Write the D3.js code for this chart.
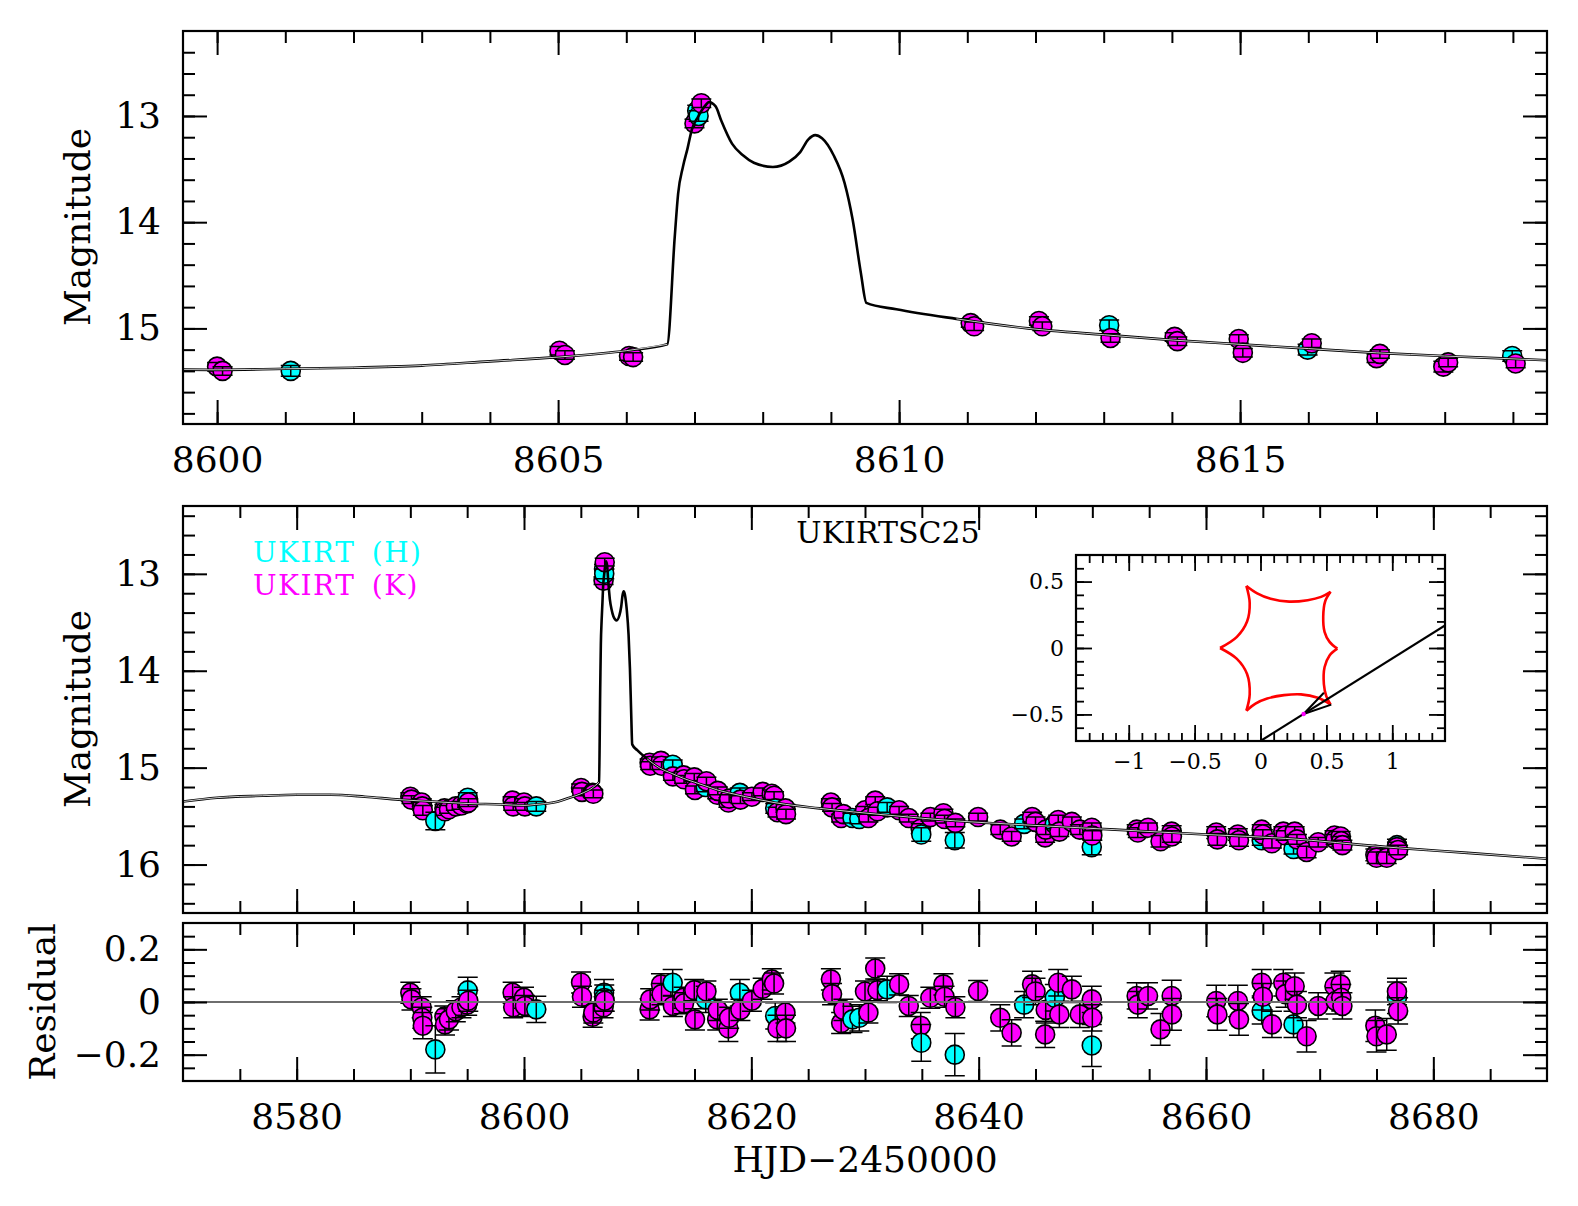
<!DOCTYPE html>
<html lang="en">
<head>
<meta charset="utf-8">
<title>UKIRTSC25 light curve</title>
<script src="https://cdn.jsdelivr.net/npm/d3@7"></script>
<style>
  body { margin: 0; background: #fff; }
  svg text { font-family: "DejaVu Serif", serif; fill: #000; }
</style>
</head>
<body>
<svg width="1578" height="1206"></svg>
<script>
// ---- model light curve (HJD-2450000, mag) ----
const modelTime = [8570, 8573, 8577, 8580, 8583, 8586, 8589, 8592, 8595, 8598, 8600, 8601, 8602, 8603, 8604, 8605, 8606, 8606.6,
  8606.71, 8606.76, 8606.83, 8606.9, 8606.96, 8607.05, 8607.16, 8607.21, 8607.31, 8607.39, 8607.55, 8607.71, 8607.87,
  8608.15, 8608.39, 8608.55, 8608.67, 8608.77, 8608.87, 8609.04, 8609.2, 8609.32, 8609.44, 8609.52, 8609.96, 8610.84,
  8611.89, 8613.01, 8614.02, 8615, 8616, 8617, 8618, 8619.5, 8622, 8626, 8632, 8638, 8644, 8652, 8660, 8667, 8676, 8683, 8690];
const modelMag = [15.35, 15.31, 15.29, 15.28, 15.28, 15.30, 15.33, 15.35, 15.37, 15.38, 15.39, 15.38, 15.37, 15.35, 15.31, 15.27, 15.21, 15.15,
  14.14, 13.73, 13.48, 13.30, 13.13, 13.01, 12.90, 12.87, 12.91, 13.04, 13.26, 13.37, 13.44,
  13.48, 13.43, 13.34, 13.22, 13.18, 13.21, 13.37, 13.63, 13.98, 14.48, 14.76, 14.82, 14.91,
  15.00, 15.06, 15.11, 15.15, 15.19, 15.23, 15.26, 15.30, 15.36, 15.42, 15.49, 15.55, 15.59, 15.64, 15.69, 15.73, 15.82, 15.88, 15.94];

// ---- observations: [time, mag, error, residual] ----
const ukirtK = [
  [8590.00, 15.30, 0.04, 0.035], [8590.10, 15.33, 0.04, 0.010], [8591.00, 15.36, 0.04, -0.020], [8591.05, 15.40, 0.04, -0.060],
  [8591.10, 15.44, 0.05, -0.090], [8593.00, 15.42, 0.04, -0.055], [8593.05, 15.45, 0.04, -0.085], [8593.40, 15.43, 0.04, -0.066],
  [8594.00, 15.40, 0.04, -0.035], [8594.50, 15.39, 0.04, -0.020], [8595.00, 15.37, 0.04, -0.010], [8595.10, 15.36, 0.04, 0.005],
  [8599.00, 15.34, 0.04, 0.035], [8599.05, 15.40, 0.04, -0.020], [8600.00, 15.36, 0.04, 0.016], [8600.08, 15.40, 0.04, -0.015],
  [8605.02, 15.21, 0.04, 0.074], [8605.10, 15.25, 0.04, 0.020], [8606.04, 15.26, 0.04, -0.056], [8606.10, 15.27, 0.04, -0.040],
  [8607.00, 13.07, 0.04, -0.020], [8607.10, 12.88, 0.04, 0.005],
  [8611.05, 14.95, 0.04, -0.028], [8611.10, 14.98, 0.04, 0.010], [8612.05, 14.93, 0.04, 0.067], [8612.10, 14.98, 0.04, 0.030],
  [8613.10, 15.09, 0.04, -0.015], [8614.04, 15.08, 0.04, 0.016], [8614.08, 15.12, 0.04, -0.005], [8614.98, 15.10, 0.04, 0.045],
  [8615.04, 15.23, 0.04, -0.066], [8616.05, 15.14, 0.04, 0.040], [8617.00, 15.28, 0.04, -0.066], [8617.05, 15.24, 0.04, -0.030],
  [8617.98, 15.36, 0.05, -0.100], [8618.05, 15.32, 0.04, -0.060], [8619.04, 15.33, 0.04, -0.030], [8620.05, 15.30, 0.04, 0.005],
  [8621.00, 15.25, 0.04, 0.050], [8621.80, 15.27, 0.04, 0.086], [8622.00, 15.29, 0.04, 0.070], [8622.30, 15.46, 0.05, -0.100],
  [8623.00, 15.42, 0.04, -0.040], [8623.05, 15.48, 0.05, -0.100],
  [8627.00, 15.36, 0.04, 0.086], [8627.10, 15.41, 0.04, 0.030], [8627.90, 15.52, 0.04, -0.080], [8628.10, 15.48, 0.04, -0.030],
  [8630.00, 15.44, 0.04, 0.040], [8630.30, 15.52, 0.04, -0.040], [8630.90, 15.34, 0.04, 0.127], [8631.10, 15.45, 0.04, 0.045],
  [8633.00, 15.44, 0.04, 0.067], [8633.85, 15.52, 0.04, -0.015], [8634.90, 15.63, 0.05, -0.090], [8635.75, 15.51, 0.04, 0.016],
  [8636.90, 15.47, 0.04, 0.067], [8637.00, 15.53, 0.04, 0.020], [8637.95, 15.57, 0.04, -0.020], [8639.95, 15.51, 0.04, 0.042],
  [8641.90, 15.64, 0.05, -0.060], [8642.90, 15.71, 0.05, -0.117], [8644.70, 15.51, 0.05, 0.067], [8645.00, 15.56, 0.05, 0.040],
  [8645.85, 15.72, 0.05, -0.123], [8645.90, 15.64, 0.05, -0.030], [8647.00, 15.54, 0.05, 0.073], [8647.10, 15.66, 0.05, -0.047],
  [8648.20, 15.56, 0.05, 0.048], [8648.90, 15.64, 0.05, -0.047], [8649.95, 15.62, 0.05, 0.010], [8650.00, 15.70, 0.05, -0.060],
  [8653.90, 15.64, 0.05, 0.023], [8654.00, 15.67, 0.05, -0.010], [8654.90, 15.62, 0.05, 0.023], [8656.00, 15.76, 0.06, -0.104],
  [8656.98, 15.66, 0.06, 0.023], [8657.00, 15.71, 0.06, -0.047], [8660.90, 15.67, 0.06, 0.004], [8661.00, 15.74, 0.06, -0.047],
  [8662.80, 15.69, 0.06, 0.004], [8662.90, 15.75, 0.06, -0.066], [8664.90, 15.64, 0.05, 0.073], [8665.00, 15.69, 0.05, 0.020],
  [8665.80, 15.78, 0.05, -0.085], [8666.80, 15.66, 0.05, 0.073], [8667.00, 15.70, 0.05, 0.030], [8667.80, 15.66, 0.05, 0.060],
  [8668.00, 15.74, 0.05, -0.010], [8668.85, 15.87, 0.06, -0.130], [8669.87, 15.77, 0.05, -0.015], [8671.30, 15.70, 0.05, 0.060],
  [8671.40, 15.74, 0.05, 0.004], [8671.85, 15.71, 0.05, 0.067], [8671.90, 15.76, 0.05, 0.016], [8672.00, 15.80, 0.05, -0.015],
  [8674.90, 15.90, 0.06, -0.090], [8675.00, 15.93, 0.06, -0.130], [8675.90, 15.93, 0.06, -0.123], [8676.80, 15.82, 0.05, 0.040],
  [8676.90, 15.85, 0.05, -0.034]
];
const ukirtH = [
  [8592.20, 15.55, 0.09, -0.180], [8595.05, 15.31, 0.05, 0.044], [8601.08, 15.40, 0.05, -0.028], [8607.04, 12.95, 0.05, 0.035],
  [8607.06, 13.00, 0.05, 0.015], [8613.08, 14.97, 0.05, 0.073], [8615.99, 15.20, 0.05, 0.010], [8618.99, 15.26, 0.05, 0.035],
  [8622.10, 15.42, 0.05, -0.053], [8628.90, 15.52, 0.05, -0.066], [8629.50, 15.53, 0.05, -0.060], [8631.95, 15.41, 0.05, 0.048],
  [8634.95, 15.69, 0.07, -0.155], [8637.90, 15.75, 0.08, -0.200], [8644.00, 15.58, 0.05, -0.010], [8646.70, 15.58, 0.05, 0.016],
  [8649.95, 15.82, 0.08, -0.165], [8664.90, 15.75, 0.05, -0.034], [8667.70, 15.84, 0.05, -0.085], [8676.80, 15.80, 0.06, 0.016]
];

// ---- inset: caustic arcs (cusp to cusp), source trajectory ----
const causticArcs = [
  [[-0.107, 0.467], [-0.025, 0.411], [0.077, 0.370], [0.218, 0.349], [0.358, 0.360], [0.460, 0.385], [0.532, 0.423]],
  [[0.532, 0.423], [0.491, 0.352], [0.476, 0.237], [0.486, 0.122], [0.524, 0.046], [0.583, -0.005]],
  [[0.583, -0.005], [0.524, -0.056], [0.486, -0.145], [0.481, -0.273], [0.499, -0.362], [0.532, -0.426]],
  [[0.532, -0.426], [0.435, -0.375], [0.307, -0.349], [0.179, -0.355], [0.051, -0.380], [-0.038, -0.418], [-0.107, -0.472]],
  [[-0.107, -0.472], [-0.082, -0.349], [-0.102, -0.196], [-0.179, -0.082], [-0.307, 0]],
  [[-0.307, 0], [-0.179, 0.084], [-0.102, 0.199], [-0.082, 0.339], [-0.107, 0.467]]
];
const trajectory = [[0.0, -0.70], [1.40, 0.17]];
const arrowHead = [[0.481, -0.337], [0.327, -0.497], [0.537, -0.426]];
const sourcePos = [0.327, -0.497];

// ---- tick values ----
const topXMajor = [8600, 8605, 8610, 8615];
const topYMajor = [13, 14, 15];
const mainXMajor = [8580, 8600, 8620, 8640, 8660, 8680];
const midYMajor = [13, 14, 15, 16];
const resYMajor = [-0.2, 0, 0.2];
const insetXMajor = [-1, -0.5, 0, 0.5, 1];
const insetYMajor = [-0.5, 0, 0.5];

const cyan = "#00ffff", magenta = "#ff00ff";
const svg = d3.select("svg");
const L = 183, R = 1547;

const xTop = d3.scaleLinear().domain([8599.5, 8619.5]).range([L, R]);
const yTop = d3.scaleLinear().domain([12.2, 15.9]).range([31, 424]);
const xMain = d3.scaleLinear().domain([8570, 8690]).range([L, R]);
const yMid = d3.scaleLinear().domain([12.3, 16.5]).range([506, 913]);
const yRes = d3.scaleLinear().domain([0.3, -0.3]).range([923, 1081]);
const xIn = d3.scaleLinear().domain([-1.4, 1.4]).range([1076, 1445]);
const yIn = d3.scaleLinear().domain([0.7, -0.7]).range([555, 741]);

// all points merged in time order, tagged by colour
const allPts = ukirtH.map(d => d.concat([cyan])).concat(ukirtK.map(d => d.concat([magenta])))
  .sort((a, b) => a[0] - b[0]);
const model = modelTime.map((t, i) => [t, modelMag[i]]);

let clipId = 0;
function panel(x, y) {
  const id = "clip" + (clipId++);
  const [x0, x1] = x.range(), [y0, y1] = y.range();
  svg.append("clipPath").attr("id", id).append("rect")
    .attr("x", x0).attr("y", y0).attr("width", x1 - x0).attr("height", y1 - y0);
  const g = svg.append("g");
  g.append("rect").attr("x", x0).attr("y", y0).attr("width", x1 - x0).attr("height", y1 - y0).attr("fill", "#fff");
  const inner = g.append("g").attr("clip-path", `url(#${id})`);
  return { g, inner };
}

// ticks on all four sides, pointing inward
function frame(g, x, y, o) {
  const [x0, x1] = x.range(), [y0, y1] = y.range();
  const put = (fn, scale, vals, len, tr, lab) => {
    const ax = fn(scale).tickValues(vals).tickSize(-len).tickPadding(lab ? o.pad : 0)
      .tickFormat(lab ? d3.format("~g") : () => "");
    const s = g.append("g").attr("transform", tr).call(ax);
    s.select(".domain").remove();
    s.selectAll("line").attr("stroke", "#000").attr("stroke-width", o.sw);
    s.selectAll("text").attr("font-size", o.fs).attr("fill", "#000");
  };
  put(d3.axisBottom, x, o.xMinor, o.minor, `translate(0,${y1})`, false);
  put(d3.axisBottom, x, o.xMajor, o.major, `translate(0,${y1})`, o.xLab);
  put(d3.axisTop, x, o.xMinor, o.minor, `translate(0,${y0})`, false);
  put(d3.axisTop, x, o.xMajor, o.major, `translate(0,${y0})`, false);
  put(d3.axisLeft, y, o.yMinor, o.minor, `translate(${x0},0)`, false);
  put(d3.axisLeft, y, o.yMajor, o.major, `translate(${x0},0)`, o.yLab);
  put(d3.axisRight, y, o.yMinor, o.minor, `translate(${x1},0)`, false);
  put(d3.axisRight, y, o.yMajor, o.major, `translate(${x1},0)`, false);
  g.append("rect").attr("x", x0).attr("y", y0).attr("width", x1 - x0).attr("height", y1 - y0)
    .attr("fill", "none").attr("stroke", "#000").attr("stroke-width", 2.2);
}

function drawPoints(g, x, y, k) {
  const p = g.selectAll(null).data(allPts).join("g");
  p.append("circle").attr("cx", d => x(d[0])).attr("cy", d => y(d[k])).attr("r", 9.5)
    .attr("fill", d => d[4]).attr("stroke", "#000").attr("stroke-width", 1.6);
  p.append("path").attr("fill", "none").attr("stroke", "#000").attr("stroke-width", 1.5)
    .attr("d", d => {
      const cx = x(d[0]), a = y(d[k] - d[2]), b = y(d[k] + d[2]);
      return `M${cx},${a}V${b}M${cx - 10},${a}H${cx + 10}M${cx - 10},${b}H${cx + 10}`;
    });
}

function drawModel(g, x, y) {
  const line = d3.line().x(d => x(d[0])).y(d => y(d[1])).curve(d3.curveMonotoneX);
  g.append("path").datum(model).attr("d", line).attr("fill", "none").attr("stroke", "#000").attr("stroke-width", 2.6);
  [model.filter(d => d[0] <= 8606.6), model.filter(d => d[0] >= 8610.84)].forEach(seg => {
    g.append("path").datum(seg).attr("d", line).attr("fill", "none").attr("stroke", "#fff").attr("stroke-width", 0.8);
  });
}

const range = (a, b, s) => d3.range(Math.round((b - a) / s) + 1).map(i => +(a + i * s).toFixed(3));

// ---- top panel: zoom on the caustic crossing ----
const pTop = panel(xTop, yTop);
drawPoints(pTop.inner, xTop, yTop, 1);
drawModel(pTop.inner, xTop, yTop);
frame(pTop.g, xTop, yTop, {
  xMajor: topXMajor, xMinor: range(8600, 8619, 1), yMajor: topYMajor, yMinor: range(12.4, 15.8, 0.2),
  major: 24, minor: 12, sw: 2, fs: 36, pad: 22, xLab: true, yLab: true
});

// ---- middle panel: full season ----
const pMid = panel(xMain, yMid);
drawPoints(pMid.inner, xMain, yMid, 1);
drawModel(pMid.inner, xMain, yMid);
frame(pMid.g, xMain, yMid, {
  xMajor: mainXMajor, xMinor: range(8575, 8685, 5), yMajor: midYMajor, yMinor: range(12.4, 16.4, 0.2),
  major: 24, minor: 12, sw: 2, fs: 36, pad: 22, xLab: false, yLab: true
});

// ---- residual panel ----
const pRes = panel(xMain, yRes);
drawPoints(pRes.inner, xMain, yRes, 3);
pRes.inner.append("line").attr("x1", L).attr("x2", R).attr("y1", yRes(0)).attr("y2", yRes(0))
  .attr("stroke", "#6e6e6e").attr("stroke-width", 2);
frame(pRes.g, xMain, yRes, {
  xMajor: mainXMajor, xMinor: range(8575, 8685, 5), yMajor: resYMajor, yMinor: range(-0.25, 0.25, 0.05),
  major: 24, minor: 12, sw: 2, fs: 36, pad: 22, xLab: true, yLab: true
});

// ---- inset: caustic geometry ----
const pIn = panel(xIn, yIn);
const pl = d3.line().x(d => xIn(d[0])).y(d => yIn(d[1]));
causticArcs.forEach(arc => {
  pIn.inner.append("path").datum(arc).attr("d", pl.curve(d3.curveCatmullRom)).attr("fill", "none")
    .attr("stroke", "#ff0000").attr("stroke-width", 2.6);
});
pl.curve(d3.curveLinear);
pIn.inner.append("path").datum(trajectory).attr("d", pl).attr("stroke", "#000").attr("stroke-width", 2.2).attr("fill", "none");
pIn.inner.append("path").datum(arrowHead).attr("d", pl).attr("stroke", "#000").attr("stroke-width", 2).attr("fill", "none");
pIn.inner.append("circle").attr("cx", xIn(sourcePos[0])).attr("cy", yIn(sourcePos[1])).attr("r", 2.2).attr("fill", magenta);
frame(pIn.g, xIn, yIn, {
  xMajor: insetXMajor, xMinor: range(-1.3, 1.3, 0.1), yMajor: insetYMajor, yMinor: range(-0.6, 0.6, 0.1),
  major: 16, minor: 8, sw: 1.8, fs: 22, pad: 12, xLab: true, yLab: true
});

// ---- labels ----
const label = (txt, x, y, fs, opt = {}) => svg.append("text").text(txt)
  .attr("transform", `translate(${x},${y})` + (opt.rot ? " rotate(-90)" : ""))
  .attr("text-anchor", opt.anchor || "middle").attr("font-size", fs).style("fill", opt.fill || "#000")
  .style("letter-spacing", opt.ls || 0).style("word-spacing", opt.ws || 0);
label("Magnitude", 90, 227, 36, { rot: true });
label("Magnitude", 90, 709, 36, { rot: true });
label("Residual", 55, 1002, 36, { rot: true });
label("HJD\u22122450000", 865, 1172, 36);
label("UKIRTSC25", 888, 543, 30);
label("UKIRT (H)", 253, 562, 28, { anchor: "start", fill: cyan, ls: "1.5px", ws: "6px" });
label("UKIRT (K)", 253, 595, 28, { anchor: "start", fill: magenta, ls: "1.5px", ws: "6px" });
</script>
</body>
</html>
